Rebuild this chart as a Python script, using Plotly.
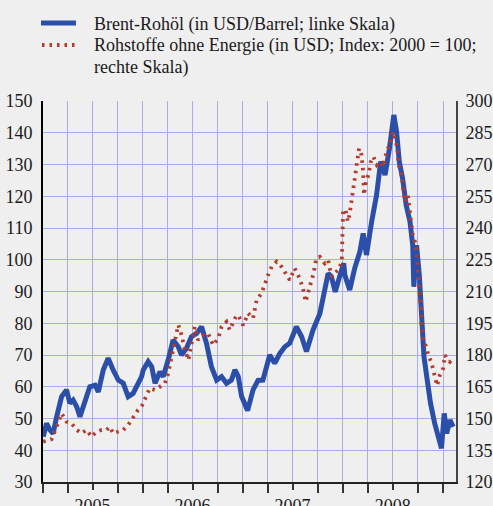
import plotly.graph_objects as go

# Brent crude oil (USD/barrel, left axis)
brent_dates = [
    "2005-01-02", "2005-01-14", "2005-01-26", "2005-02-07", "2005-02-20", "2005-03-10",
    "2005-03-28", "2005-04-09", "2005-04-21", "2005-05-04", "2005-05-16", "2005-06-03",
    "2005-06-21", "2005-07-10", "2005-07-22", "2005-08-09", "2005-08-27", "2005-09-14",
    "2005-10-03", "2005-10-21", "2005-11-08", "2005-11-26", "2005-12-14", "2005-12-27",
    "2006-01-02", "2006-01-20", "2006-02-02", "2006-02-14", "2006-03-04", "2006-03-16",
    "2006-04-03", "2006-04-21", "2006-05-10", "2006-05-22", "2006-06-09", "2006-06-27",
    "2006-07-16", "2006-08-03", "2006-08-21", "2006-09-08", "2006-09-27", "2006-10-15",
    "2006-11-02", "2006-11-20", "2006-12-03", "2006-12-15", "2006-12-27", "2007-01-18",
    "2007-02-07", "2007-02-25", "2007-03-15", "2007-04-09", "2007-04-27", "2007-05-16",
    "2007-06-03", "2007-06-21", "2007-07-15", "2007-08-03", "2007-08-21", "2007-09-14",
    "2007-10-09", "2007-10-27", "2007-11-08", "2007-11-20", "2007-12-04", "2007-12-20",
    "2008-01-04", "2008-01-08", "2008-01-26", "2008-02-13", "2008-03-03", "2008-03-15",
    "2008-03-27", "2008-04-15", "2008-05-03", "2008-05-18", "2008-06-03", "2008-06-19",
    "2008-07-05", "2008-07-15", "2008-07-25", "2008-08-06", "2008-08-19", "2008-09-02",
    "2008-09-12", "2008-09-16", "2008-09-26", "2008-10-06", "2008-10-15", "2008-10-23",
    "2008-11-04", "2008-11-16", "2008-12-01", "2008-12-14", "2008-12-26", "2009-01-05",
    "2009-01-14", "2009-01-26", "2009-02-07",
]
brent_values = [
    44.3, 48.5, 46.4, 45.3, 50.6, 56.9,
    59.0, 54.8, 55.8, 53.7, 50.6, 55.8,
    60.0, 60.5, 58.4, 65.3, 69.0, 65.3,
    62.1, 61.1, 56.9, 57.9, 61.1, 63.2,
    65.3, 67.9, 66.3, 61.1, 64.7, 63.2,
    68.4, 74.7, 72.6, 70.0, 72.1, 75.8,
    76.8, 78.9, 73.7, 66.3, 62.1, 63.2,
    61.1, 62.1, 65.3, 63.2, 57.0, 52.5,
    59.0, 62.0, 62.1, 70.0, 67.4, 70.5,
    72.6, 73.7, 78.9, 75.8, 71.1, 77.9,
    83.1, 90.5, 95.7, 94.7, 89.9, 94.7,
    98.9, 95.2, 90.5, 97.3, 102.5, 108.3,
    101.5, 112.0, 120.4, 130.9, 126.7, 135.1,
    145.6, 140.3, 130.9, 125.6, 117.2, 112.0,
    104.6, 91.5, 104.6, 95.2, 77.9, 69.5,
    62.1, 54.8, 48.5, 44.3, 40.6, 51.6,
    45.3, 49.5, 47.4,
]

# Non-energy commodities (USD index, 2000 = 100, right axis)
comm_dates = [
    "2005-01-02", "2005-02-01", "2005-02-20", "2005-03-10", "2005-03-28", "2005-04-15",
    "2005-05-04", "2005-05-22", "2005-06-09", "2005-06-27", "2005-07-16", "2005-08-03",
    "2005-08-21", "2005-09-02", "2005-09-14", "2005-10-03", "2005-10-21", "2005-11-08",
    "2005-11-26", "2005-12-14", "2005-12-28", "2006-01-08", "2006-01-26", "2006-02-14",
    "2006-03-04", "2006-03-22", "2006-04-03", "2006-04-15", "2006-04-27", "2006-05-10",
    "2006-05-22", "2006-06-03", "2006-06-16", "2006-06-27", "2006-07-09", "2006-07-21",
    "2006-08-08", "2006-08-27", "2006-09-14", "2006-10-03", "2006-10-15", "2006-11-02",
    "2006-11-14", "2006-12-03", "2006-12-15", "2007-01-02", "2007-01-20", "2007-02-07",
    "2007-02-20", "2007-03-10", "2007-03-22", "2007-04-03", "2007-04-16", "2007-05-04",
    "2007-05-22", "2007-06-09", "2007-06-21", "2007-07-09", "2007-07-27", "2007-08-08",
    "2007-08-18", "2007-09-02", "2007-09-16", "2007-09-26", "2007-10-09", "2007-10-27",
    "2007-11-08", "2007-11-20", "2007-12-08", "2007-12-20", "2007-12-28", "2008-01-02",
    "2008-01-11", "2008-01-19", "2008-01-26", "2008-02-05", "2008-02-13", "2008-02-22",
    "2008-02-29", "2008-03-09", "2008-03-15", "2008-03-18", "2008-03-25", "2008-04-03",
    "2008-04-12", "2008-04-21", "2008-05-04", "2008-05-16", "2008-05-28", "2008-06-09",
    "2008-06-21", "2008-07-01", "2008-07-09", "2008-07-17", "2008-07-23", "2008-07-30",
    "2008-08-04", "2008-08-09", "2008-08-15", "2008-08-25", "2008-08-31", "2008-09-06",
    "2008-09-12", "2008-09-20", "2008-09-26", "2008-09-30", "2008-10-05", "2008-10-08",
    "2008-10-12", "2008-10-15", "2008-10-21", "2008-10-31", "2008-11-08", "2008-11-20",
    "2008-11-26", "2008-12-04", "2008-12-10", "2008-12-20", "2009-01-01", "2009-01-08",
    "2009-01-16", "2009-01-26", "2009-02-05",
]
comm_values = [
    139.0, 140.2, 146.1, 152.4, 148.5, 147.7,
    144.6, 143.0, 144.6, 141.4, 143.8, 144.6,
    144.6, 146.1, 143.0, 143.8, 144.6, 146.9,
    150.8, 154.0, 156.0, 159.5, 164.3, 163.5,
    165.0, 166.6, 171.4, 179.2, 187.1, 194.2,
    189.4, 182.4, 177.6, 185.5, 193.4, 187.1,
    189.4, 190.2, 184.7, 187.9, 193.4, 195.7,
    191.8, 197.3, 198.9, 194.0, 199.7, 197.3,
    206.0, 209.1, 213.9, 217.8, 221.7, 224.1,
    221.7, 217.8, 215.4, 220.9, 216.2, 211.5,
    205.2, 212.3, 218.6, 225.7, 226.4, 223.3,
    224.9, 217.0, 219.3, 220.9, 224.9, 248.5,
    248.5, 243.0, 246.9, 255.6, 263.5, 271.3,
    277.6, 274.5, 266.6, 255.6, 261.9, 265.0,
    271.3, 273.7, 269.8, 271.3, 268.9, 276.8,
    279.2, 285.5, 281.6, 278.4, 269.8, 266.6,
    263.5, 257.1, 252.4, 255.6, 249.3, 243.0,
    236.7, 233.5, 228.8, 221.0, 213.1, 209.1,
    201.3, 191.8, 187.1, 183.9, 180.0, 176.1,
    172.9, 167.0, 165.5, 170.5, 173.7, 180.0,
    177.6, 176.8, 178.9,
]

name_brent = "Brent-Rohöl (in USD/Barrel; linke Skala)"
name_comm_lines = ["Rohstoffe ohne Energie (in USD; Index: 2000 = 100;", "rechte Skala)"]

FONT = "Liberation Serif"
BG = "#efefef"
GRID = "#a9ade6"
BLUE = "#2b4fa8"
RED = "#b33a2c"
TXT = "#1a1a1a"
DOT = "2.5px,5px"

fig = go.Figure()
fig.add_trace(go.Scatter(
    x=brent_dates, y=brent_values, mode="lines", name=name_brent,
    line=dict(color=BLUE, width=5), yaxis="y", showlegend=False,
))
fig.add_trace(go.Scatter(
    x=comm_dates, y=comm_values, mode="lines", name="<br>".join(name_comm_lines),
    line=dict(color=RED, width=3.8, dash=DOT), yaxis="y2", showlegend=False,
))

W, H = 493, 506
annotations = []
shapes = []
for txt, py in [(name_brent, 24), (name_comm_lines[0], 46), (name_comm_lines[1], 68)]:
    annotations.append(dict(
        text=txt, xref="paper", yref="paper", showarrow=False,
        x=(92 - 43) / 413, y=(482 - py) / 381, xanchor="left", yanchor="middle",
        font=dict(family=FONT, size=18, color=TXT),
    ))
shapes.append(dict(type="line", xref="paper", yref="paper",
                   x0=(41 - 43) / 413, x1=(76 - 43) / 413,
                   y0=(482 - 23) / 381, y1=(482 - 23) / 381,
                   line=dict(color=BLUE, width=5)))
shapes.append(dict(type="line", xref="paper", yref="paper",
                   x0=(42 - 43) / 413, x1=(78 - 43) / 413,
                   y0=(482 - 45) / 381, y1=(482 - 45) / 381,
                   line=dict(color=RED, width=3.8, dash=DOT)))

fig.update_layout(
    width=W, height=H,
    margin=dict(l=43, r=37, t=101, b=24, autoexpand=False),
    paper_bgcolor=BG, plot_bgcolor=BG,
    font=dict(family=FONT, size=18, color=TXT),
    showlegend=False,
    annotations=annotations,
    shapes=shapes,
    modebar=dict(bgcolor="rgba(0,0,0,0)", color="rgba(0,0,0,0)",
                 activecolor="rgba(0,0,0,0)"),
    xaxis=dict(
        type="date", range=["2005-01-01", "2009-02-17"], automargin=False,
        tick0="2005-07-01", dtick="M12", tickformat="%Y",
        showgrid=True, gridcolor=GRID, gridwidth=1,
        ticks="outside", ticklen=6, tickcolor="#333", tickwidth=1.5,
        minor=dict(tick0="2005-01-01", dtick="M3", showgrid=True, gridcolor=GRID, gridwidth=1,
                   ticks="outside", ticklen=9, tickcolor="#333", tickwidth=1.5),
        showline=True, linecolor="#222", linewidth=2,
        zeroline=False,
        tickfont=dict(family=FONT, size=18, color=TXT),
    ),
    yaxis=dict(
        range=[30, 150], tick0=30, dtick=10, automargin=False,
        showgrid=True, gridcolor=GRID, gridwidth=1,
        showline=True, linecolor="#000", linewidth=2,
        ticks="outside", ticklen=5, tickcolor="rgba(0,0,0,0)", zeroline=False,
        tickfont=dict(family=FONT, size=18, color=TXT),
    ),
    yaxis2=dict(
        range=[120, 300], tick0=120, dtick=15, overlaying="y", side="right",
        automargin=False,
        showgrid=False, showline=True, linecolor="#444", linewidth=2,
        ticks="outside", ticklen=4, tickcolor="rgba(0,0,0,0)", zeroline=False,
        tickfont=dict(family=FONT, size=18, color=TXT),
    ),
)

post = (
    "document.body.style.margin='0';"
    "var s=document.createElement('style');"
    "s.innerHTML='.modebar-container{display:none !important;}';"
    "document.head.appendChild(s);"
)
fig.write_html("out.html", post_script=post)
